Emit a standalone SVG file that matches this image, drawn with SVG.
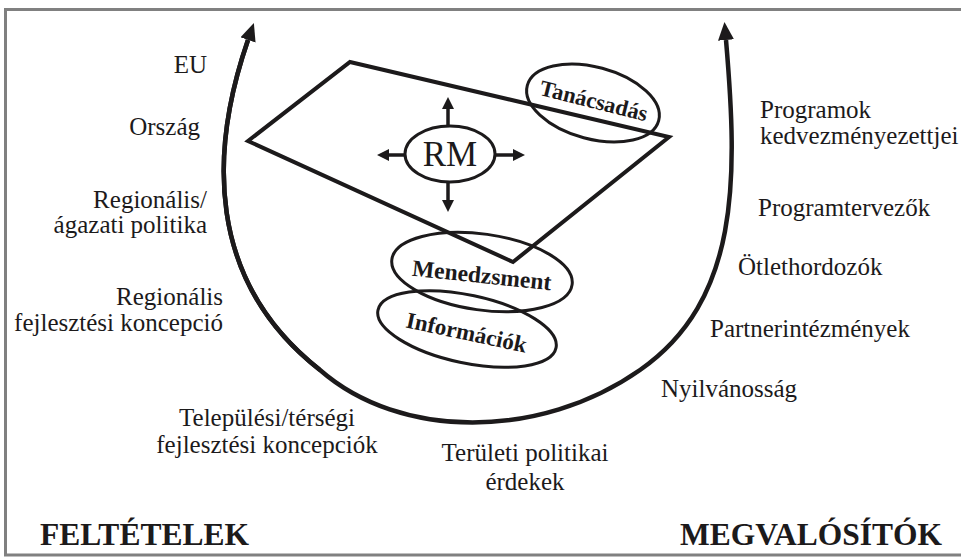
<svg xmlns="http://www.w3.org/2000/svg" width="961" height="559" viewBox="0 0 961 559">
<style>
.t{font-family:"Liberation Serif","Times New Roman",serif;font-size:25px;fill:#1c1a1b}
.b{font-family:"Liberation Serif","Times New Roman",serif;font-weight:bold;fill:#1c1a1b}
.ln{fill:none;stroke:#1c1a1b;stroke-linejoin:miter}
.el{fill:none;stroke:#1c1a1b;stroke-width:3}
</style>
<defs>
<marker id="big" viewBox="0 0 18 16" refX="0" refY="8" markerWidth="18" markerHeight="16" markerUnits="userSpaceOnUse" orient="auto">
<path d="M0,0 L18,8 L0,16 z" fill="#1c1a1b"/>
</marker>
<marker id="sm" viewBox="0 0 12 12" refX="0" refY="6" markerWidth="12" markerHeight="12" markerUnits="userSpaceOnUse" orient="auto">
<path d="M0,0 L12,6 L0,12 z" fill="#1c1a1b"/>
</marker>
</defs>
<rect width="961" height="559" fill="#fff"/>
<g id="frame" fill="none" stroke="#808080" stroke-width="3">
<path d="M961,9.5 L5.5,9.5 L5.5,555 L961,555"/>
</g>
<g id="connectors">
<path class="ln" stroke-width="4.5" d="M248,40 C210,150 205,280 320,370 C400,440 540,440 640,370 C740,300 738,180 726,40" marker-end="url(#big)"/>
<path class="ln" stroke-width="4.5" d="M320,370 C205,280 210,150 248,40" marker-end="url(#big)"/>
<path class="ln" stroke-width="3.5" d="M448,125 V109" marker-end="url(#sm)"/>
<path class="ln" stroke-width="3.5" d="M448,182 V200" marker-end="url(#sm)"/>
<path class="ln" stroke-width="3.5" d="M405,155 H389" marker-end="url(#sm)"/>
<path class="ln" stroke-width="3.5" d="M495,155 H513" marker-end="url(#sm)"/>
</g>
<g id="plane">
<path class="ln" stroke-width="4" d="M350,62 L669,137 L513,262 L248,141 Z"/>
</g>
<g id="rm">
<ellipse class="el" cx="450" cy="154" rx="45" ry="28"/>
<text class="t" x="450" y="166" text-anchor="middle" style="font-size:35px">RM</text>
</g>
<g id="tanacsadas">
<ellipse class="el" cx="593" cy="103" rx="68" ry="36" transform="rotate(15 593 103)"/>
<text class="b" x="592" y="108" text-anchor="middle" font-size="22.5" transform="rotate(14 592 108)">Tanácsadás</text>
</g>
<g id="menedzsment">
<ellipse class="el" cx="482" cy="272" rx="91" ry="38" transform="rotate(8 482 272)"/>
<text class="b" x="481" y="283" text-anchor="middle" font-size="23.5" transform="rotate(6 481 283)">Menedzsment</text>
</g>
<g id="informaciok">
<ellipse class="el" cx="467" cy="329" rx="91" ry="34" transform="rotate(12 467 329)"/>
<text class="b" x="465" y="340" text-anchor="middle" font-size="23" transform="rotate(12 465 340)">Információk</text>
</g>
<g id="left-labels">
<text class="t" x="207" y="73" text-anchor="end">EU</text>
<text class="t" x="200" y="135" text-anchor="end">Ország</text>
<text class="t" x="207" y="208" text-anchor="end">Regionális/</text>
<text class="t" x="207" y="233" text-anchor="end">ágazati politika</text>
<text class="t" x="223" y="305" text-anchor="end">Regionális</text>
<text class="t" x="223" y="331" text-anchor="end">fejlesztési koncepció</text>
<text class="t" x="267" y="426" text-anchor="middle">Települési/térségi</text>
<text class="t" x="267" y="453" text-anchor="middle">fejlesztési koncepciók</text>
</g>
<g id="bottom-labels">
<text class="t" x="525" y="461" text-anchor="middle">Területi politikai</text>
<text class="t" x="525" y="490" text-anchor="middle">érdekek</text>
</g>
<g id="right-labels">
<text class="t" x="760" y="118">Programok</text>
<text class="t" x="760" y="144">kedvezményezettjei</text>
<text class="t" x="758" y="216">Programtervezők</text>
<text class="t" x="738" y="275">Ötlethordozók</text>
<text class="t" x="710" y="337">Partnerintézmények</text>
<text class="t" x="661" y="397">Nyilvánosság</text>
</g>
<g id="titles">
<text class="b" x="40" y="545" font-size="31.5">FELTÉTELEK</text>
<text class="b" x="680" y="545" font-size="31.5">MEGVALÓSÍTÓK</text>
</g>
</svg>
